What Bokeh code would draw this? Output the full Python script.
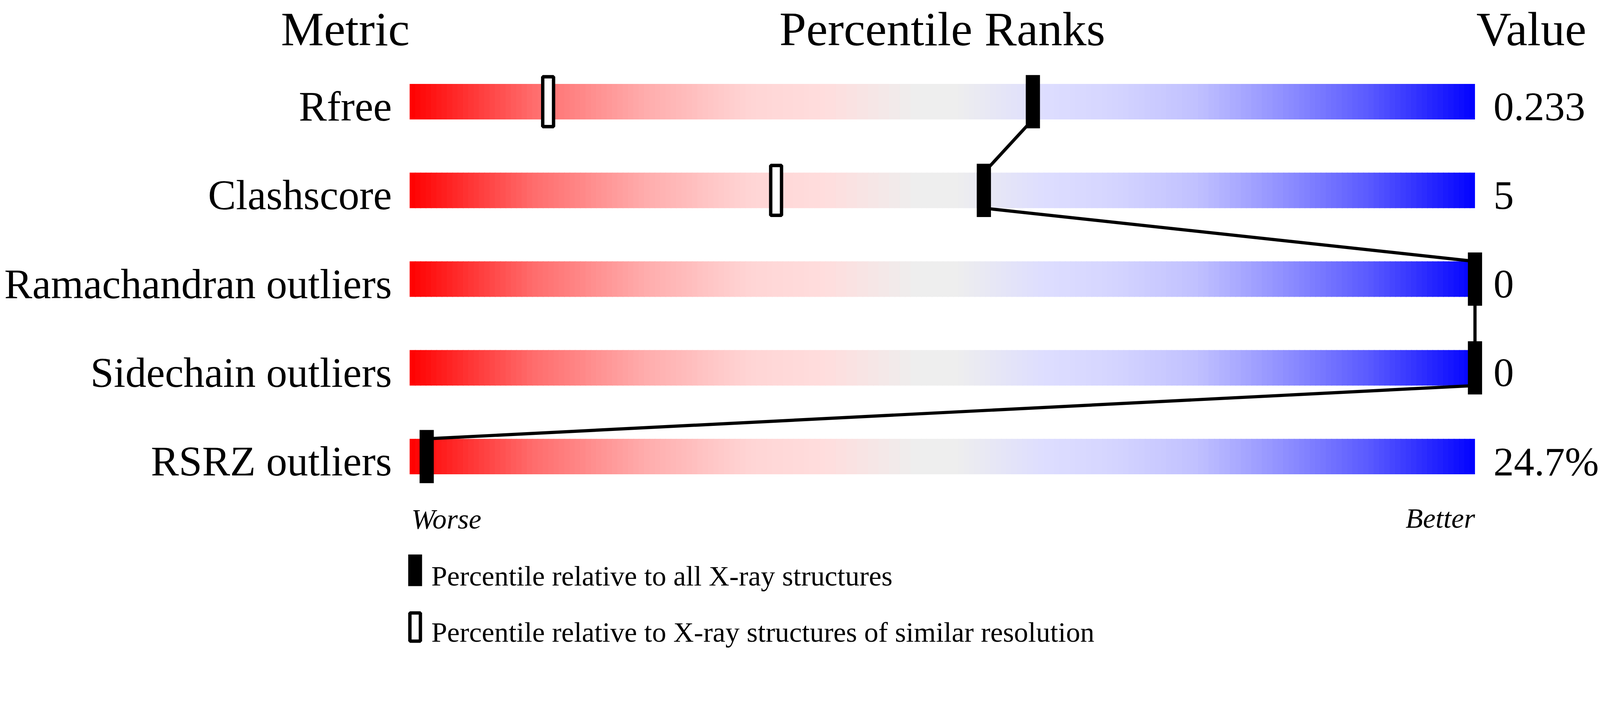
from bokeh.plotting import figure
from bokeh.models import Range1d
from bokeh.embed import file_html
from bokeh.resources import INLINE
from bokeh.core.properties import value

# ---------------- data ----------------
metrics = ["Rfree", "Clashscore", "Ramachandran outliers", "Sidechain outliers", "RSRZ outliers"]
metric_values = ["0.233", "5", "0", "0", "24.7%"]
pct_all = [58.5, 53.9, 100.0, 100.0, 1.6]          # percentile vs all X-ray structures
similar_rows = [0, 1]                                # rows that show a similar-resolution marker
pct_similar = [13.0, 34.4]                           # percentile vs similar resolution
headers = ["Metric", "Percentile Ranks", "Value"]
scale_ends = ["Worse", "Better"]
legend_labels = ["Percentile relative to all X-ray structures",
                 "Percentile relative to X-ray structures of similar resolution"]

# colour ramp of the slider (percentile position -> colour)
grad_pos = [0, 11.5, 22, 32, 39, 47.5, 51, 60, 66, 74, 82, 90, 98.4, 100]
grad_col = ["#ff0000", "#ff6b6b", "#ffacac", "#ffd5d5", "#ffdddd", "#eeeeee", "#eeeeee",
            "#ddddff", "#d5d5ff", "#c0c0ff", "#9090ff", "#5a5aff", "#1010ff", "#0000ff"]

# ---------------- layout ----------------
F = 1.1                      # photo px per css px
W, H = 4092, 1664            # figure size (css px)
PX_X = 30.0 / F              # css px per percentile unit
PX_Y = 250.0 / F             # css px per row
BAR0 = 1153.0 / F            # figure px of percentile 0
ROW0 = 286.0 / F             # figure px of first row centre
FONT = value("Liberation Serif")
BASE_K = 0.31                # raise of the alphabetic baseline, in em


def sx(s):
    """photo x (px) -> data x"""
    return (s - 1153.0) / 30.0


def sy(s):
    """photo y (px) -> data y"""
    return (s - 286.0) / 250.0


def ty(base, size):
    """data y for a text whose baseline sits at photo y `base`"""
    return sy(base - BASE_K * size)


def fs(px):
    return value("%.1fpx" % (px / F))


p = figure(width=W, height=H, output_backend="svg", toolbar_location=None,
           x_range=Range1d(-BAR0 / PX_X, (W - BAR0) / PX_X),
           y_range=Range1d((H - ROW0) / PX_Y, -ROW0 / PX_Y),
           x_axis_location=None, y_axis_location=None, min_border=0)
p.grid.visible = False
p.outline_line_color = None
p.background_fill_color = "white"
p.border_fill_color = "white"


def hex2rgb(h):
    return tuple(int(h[i:i + 2], 16) for i in (1, 3, 5))


def ramp(t):
    for k in range(len(grad_pos) - 1):
        if grad_pos[k] <= t <= grad_pos[k + 1]:
            a, b = hex2rgb(grad_col[k]), hex2rgb(grad_col[k + 1])
            f = (t - grad_pos[k]) / (grad_pos[k + 1] - grad_pos[k])
            c = [round(a[j] + (b[j] - a[j]) * f) for j in range(3)]
            return "#%02x%02x%02x" % tuple(c)
    return grad_col[-1]


# gradient bars
step = 0.5
nb = int(100 / step)
left, right, top, bottom, colors = [], [], [], [], []
for r in range(len(metrics)):
    for k in range(nb):
        l = k * step
        left.append(l)
        right.append(min(100.0, l + step * 1.15))
        top.append(r - 0.2)
        bottom.append(r + 0.2)
        colors.append(ramp(l + step / 2))
p.quad(left=left, right=right, top=top, bottom=bottom, fill_color=colors, line_color=None)

# connecting lines between the "all structures" markers
rows = list(range(len(metrics)))
p.segment(x0=pct_all[:-1], y0=[r + 0.2 for r in rows[:-1]],
          x1=pct_all[1:], y1=[r + 0.8 for r in rows[:-1]],
          line_color="black", line_width=9 / F)

# similar-resolution markers (open)
lw = 9.5
p.rect(x=pct_similar, y=similar_rows, width=(40 - lw) / 30, height=(150 - lw) / 250,
       fill_color="white", line_color="black", line_width=lw / F)
# all-structures markers (filled)
p.rect(x=pct_all, y=rows, width=40 / 30, height=150 / 250,
       fill_color="black", line_color=None)

# headers (kept just inside the top edge)
HB, HS = 124, 136
p.text(x=[sx(1153)], y=[ty(HB, HS)], text=[headers[0]], text_font=FONT, text_font_size=fs(HS),
       text_align="right", text_baseline="alphabetic", text_color="black")
p.text(x=[50], y=[ty(HB, HS)], text=[headers[1]], text_font=FONT, text_font_size=fs(HS),
       text_align="center", text_baseline="alphabetic", text_color="black")
p.text(x=[sx(4157)], y=[ty(HB, HS)], text=[headers[2]], text_font=FONT, text_font_size=fs(HS),
       text_align="left", text_baseline="alphabetic", text_color="black")

# row labels and values (baseline on the bar's lower edge)
row_base = [336 + 250 * r for r in rows]
p.text(x=[sx(1103)] * len(metrics), y=[ty(b, 118) for b in row_base], text=metrics, text_font=FONT,
       text_font_size=fs(118), text_align="right", text_baseline="alphabetic", text_color="black")
p.text(x=[sx(4205)] * len(metrics), y=[ty(b, 115) for b in row_base], text=metric_values,
       text_font=FONT, text_font_size=fs(115), text_align="left", text_baseline="alphabetic",
       text_color="black")

# worse / better
p.text(x=[sx(1158)], y=[ty(1487, 80)], text=[scale_ends[0]], text_font=FONT, text_font_size=fs(80),
       text_font_style="italic", text_align="left", text_baseline="alphabetic", text_color="black")
p.text(x=[100], y=[ty(1485, 80)], text=[scale_ends[1]], text_font=FONT, text_font_size=fs(80),
       text_font_style="italic", text_align="right", text_baseline="alphabetic", text_color="black")

# legend
p.rect(x=[sx(1168.5)], y=[sy(1606.5)], width=39 / 30, height=89 / 250,
       fill_color="black", line_color=None)
p.rect(x=[sx(1168.5)], y=[sy(1766.5)], width=(39 - lw) / 30, height=(89 - lw) / 250,
       fill_color="white", line_color="black", line_width=lw / F)
p.text(x=[sx(1214)] * 2, y=[ty(1647, 80), ty(1806, 80)], text=legend_labels, text_font=FONT,
       text_font_size=fs(80), text_align="left", text_baseline="alphabetic", text_color="black")

open("out.html", "w").write(file_html(p, INLINE))
